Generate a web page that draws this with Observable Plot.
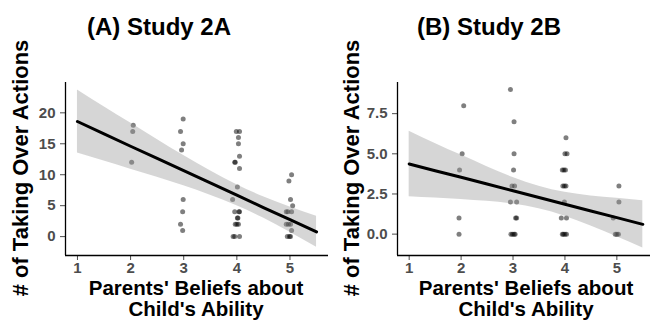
<!DOCTYPE html>
<html><head><meta charset="utf-8">
<script src="https://cdn.jsdelivr.net/npm/d3@7"></script>
<script src="https://cdn.jsdelivr.net/npm/@observablehq/plot@0.6"></script>
<style>
body{margin:0;background:#fff;overflow:hidden}
#wrap{position:relative;width:650px;height:320px;overflow:hidden}
.panel{position:absolute;top:0}
#overlay{position:absolute;left:0;top:0;pointer-events:none}
#overlay text{font-family:"Liberation Sans",Arial,sans-serif;font-weight:bold;fill:#000}
</style></head><body><div id="wrap"></div>
<script>
// ---- shared ----
const xTicks = [1, 2, 3, 4, 5];
const xDomain = [0.775, 5.725];
const titles = ["(A) Study 2A", "(B) Study 2B"];
const yTitle = "# of Taking Over Actions";
const xTitleLines = ["Parents' Beliefs about", "Child's Ability"];

// ---- Panel A (Study 2A) points (jittered x as read) ----
const aX = [2.05, 2.04, 2.02,
  2.99, 2.94, 2.99, 2.96, 2.99, 2.98, 2.94, 2.98,
  3.99, 4.05, 4.03, 4.03, 4.05, 3.96, 3.97, 4.05, 4.01, 3.92, 3.96, 4.04, 4.05, 4.01, 4.02, 3.97, 4.03, 4.00, 3.93, 3.96, 4.05,
  5.03, 4.98, 5.01, 5.05, 4.93, 5.03, 4.96, 4.93, 5.01, 4.97, 5.03, 4.95, 4.99, 5.01];
const aY = [18, 17, 12,
  19, 17, 15, 14, 6, 4, 2, 1,
  17, 17, 16, 15, 13, 12, 12, 11, 8, 6, 4, 4, 4, 3, 3, 2, 2, 2, 0, 0, 0,
  10, 9, 6, 5, 4, 4, 4, 2, 2, 2, 1, 0, 0, 0];
const aYTicks = [0, 5, 10, 15, 20];
const aYDomain = [-3.05, 24.9];
// fitted line and 95% band as read
const bandX = [1, 1.5, 2, 2.5, 3, 3.5, 4, 4.5, 5, 5.5];
const aFit  = [18.6, 16.6, 14.6, 12.65, 10.65, 8.7, 6.7, 4.7, 2.75, 0.75];
const aLow  = [13.5, 12.2, 10.9, 9.6, 8.2, 6.7, 5.0, 3.0, 0.7, -1.7];
const aHigh = [23.7, 21.0, 18.35, 15.7, 13.1, 10.65, 8.4, 6.45, 4.8, 3.3];

// ---- Panel B (Study 2B) points ----
const bX = [2.05, 2.02, 1.97, 1.96, 1.96,
  2.95, 3.02, 3.02, 3.01, 2.98, 3.03, 2.95, 3.07, 3.05, 3.07, 2.96, 2.99, 3.02, 3.04,
  4.02, 4.00, 4.04, 3.95, 3.98, 4.01, 3.96, 3.99, 4.02, 3.99, 3.93, 4.03, 3.95, 3.97, 4.00, 4.03,
  5.04, 5.04, 4.93, 4.97, 5.00, 5.03];
const bY = [8, 5, 4, 1, 0,
  9, 7, 5, 4, 3, 3, 2, 2, 1, 1, 0, 0, 0, 0,
  6, 5, 5, 4, 4, 4, 3, 3, 3, 2, 1, 1, 0, 0, 0, 0,
  3, 2, 1, 0, 0, 0];
const bYTicks = [0, 2.5, 5, 7.5];
const bYDomain = [-1.33, 9.44];
const bFit  = [4.37, 3.95, 3.54, 3.12, 2.70, 2.28, 1.86, 1.44, 1.03, 0.61];
const bLow  = [2.33, 2.25, 2.16, 2.04, 1.87, 1.58, 1.12, 0.50, -0.17, -0.86];
const bHigh = [6.41, 5.65, 4.92, 4.20, 3.53, 2.98, 2.60, 2.38, 2.23, 2.08];

const font = '"Liberation Sans", Arial, sans-serif';

function panel({xs, ys, fit, low, high, yDomain, yTicks, yFormat, width, marginLeft}) {
  const pts = xs.map((x, i) => ({x, y: ys[i]}));
  const band = bandX.map((x, i) => ({x, fit: fit[i], low: low[i], high: high[i]}));
  return Plot.plot({
    width, height: 320,
    marginLeft, marginRight: 2, marginTop: 82, marginBottom: 65,
    style: {fontFamily: font, fontSize: "15px", fontWeight: "bold", color: "#4d4d4d", background: "transparent", overflow: "visible"},
    x: {domain: xDomain, ticks: xTicks, tickFormat: d3.format("d"), tickSize: 5, tickPadding: 2, label: null},
    y: {domain: yDomain, ticks: yTicks, tickFormat: yFormat, tickSize: 5, tickPadding: 5, label: null},
    marks: [
      Plot.dot(pts, {x: "x", y: "y", r: 2.5, fill: "black", fillOpacity: 0.5, stroke: null}),
      Plot.areaY(band, {x: "x", y1: "low", y2: "high", fill: "#999999", fillOpacity: 0.4, curve: "natural"}),
      Plot.line(band, {x: "x", y: "fit", stroke: "black", strokeWidth: 3}),
      Plot.ruleX([xDomain[0]], {stroke: "black", strokeWidth: 1.3}),
      Plot.ruleY([yDomain[0]], {stroke: "black", strokeWidth: 1.3})
    ]
  });
}

const wrap = document.getElementById("wrap");
const pA = panel({xs: aX, ys: aY, fit: aFit, low: aLow, high: aHigh, yDomain: aYDomain, yTicks: aYTicks, yFormat: d3.format("d"), width: 330, marginLeft: 65});
pA.classList.add("panel"); pA.style.left = "0px";
const pB = panel({xs: bX, ys: bY, fit: bFit, low: bLow, high: bHigh, yDomain: bYDomain, yTicks: bYTicks, yFormat: d3.format(".1f"), width: 326, marginLeft: 67});
pB.classList.add("panel"); pB.style.left = "330px";
wrap.appendChild(pA); wrap.appendChild(pB);

// titles & axis titles overlay
const ns = "http://www.w3.org/2000/svg";
const ov = document.createElementNS(ns, "svg");
ov.setAttribute("id", "overlay"); ov.setAttribute("width", 650); ov.setAttribute("height", 320);
function txt(s, x, y, size, anchor, rot) {
  const t = document.createElementNS(ns, "text");
  t.textContent = s;
  t.setAttribute("font-size", size);
  t.setAttribute("text-anchor", anchor);
  if (rot) t.setAttribute("transform", `translate(${x},${y}) rotate(-90)`);
  else { t.setAttribute("x", x); t.setAttribute("y", y); }
  ov.appendChild(t);
}
txt(titles[0], 87, 35, 24, "start");
txt(titles[1], 417, 35, 24, "start");
txt(yTitle, 28, 168, 22, "middle", true);
txt(yTitle, 359, 168, 22, "middle", true);
[196, 526].forEach(cx => {
  txt(xTitleLines[0], cx, 295, 20.5, "middle");
  txt(xTitleLines[1], cx, 316, 20.5, "middle");
});
wrap.appendChild(ov);
</script></body></html>
